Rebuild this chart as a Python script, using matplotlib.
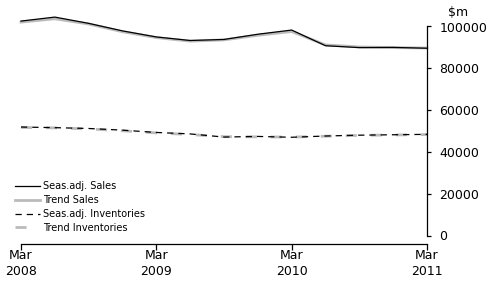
import matplotlib.pyplot as plt

# quarterly, Mar 2008 .. Mar 2011 ($m)
quarters = list(range(13))
seas_sales = [102600, 104500, 101500, 97900, 95000, 93300, 93800, 96300, 98300,
              90800, 89900, 90000, 89600]
trend_sales = [102100, 103700, 101200, 97500, 94700, 93000, 93600, 95800, 97600,
               91200, 90200, 89900, 89700]
seas_inv = [51900, 51600, 51200, 50400, 49300, 48600, 47100, 47400, 47000,
            47600, 48000, 48200, 48400]
trend_inv = [51700, 51500, 51000, 50100, 49100, 48300, 47300, 47200, 47100,
             47500, 47900, 48100, 48300]

tick_pos = [0, 4, 8, 12]
tick_labels = ["Mar\n2008", "Mar\n2009", "Mar\n2010", "Mar\n2011"]
y_ticks = [0, 20000, 40000, 60000, 80000, 100000]

plt.rcParams['font.family'] = ['DejaVu Sans']

fig = plt.figure(figsize=(4.96, 2.84), dpi=100)
ax = fig.add_axes([21/496, 48.5/284, 406/496, 209/284])

grey = '#bbbbbb'
ax.plot(quarters, trend_sales, color=grey, lw=2, clip_on=False, label='Trend Sales', zorder=2)
ax.plot(quarters, seas_sales, color='black', lw=0.9, clip_on=False, label='Seas.adj. Sales', zorder=3)
ax.plot(quarters, trend_inv, color=grey, lw=2, dashes=(4, 5), clip_on=False,
        label='Trend Inventories', zorder=2)
ax.plot(quarters, seas_inv, color='black', lw=0.9, dashes=(5, 4), clip_on=False,
        label='Seas.adj. Inventories', zorder=3)

ax.set_xlim(0, 12)
ax.set_ylim(0, 100000)

for s in ['left', 'top']:
    ax.spines[s].set_visible(False)
ax.spines['bottom'].set_position(('outward', 6))
ax.spines['bottom'].set_linewidth(0.9)
ax.spines['right'].set_linewidth(0.9)

ax.set_xticks(tick_pos)
ax.set_xticklabels(tick_labels, fontsize=9, linespacing=1.3)
ax.yaxis.tick_right()
ax.set_yticks(y_ticks)
ax.set_yticklabels([str(v) for v in y_ticks], fontsize=9)
ax.tick_params(axis='x', direction='out', length=4, width=0.9, pad=0)
ax.tick_params(axis='y', direction='out', length=3, width=0.9, pad=6)

fig.text(458/496, 1 - 12/284, '$m', fontsize=9, ha='center', va='center')

h, l = ax.get_legend_handles_labels()
order = [1, 0, 3, 2]
ax.legend([h[i] for i in order], [l[i] for i in order], loc='lower left',
          bbox_to_anchor=(-0.03, -0.015), frameon=False, fontsize=7,
          handlelength=2.6, handletextpad=0.3, labelspacing=0.4,
          borderaxespad=0.2)

fig.savefig('out.png', dpi=100)
